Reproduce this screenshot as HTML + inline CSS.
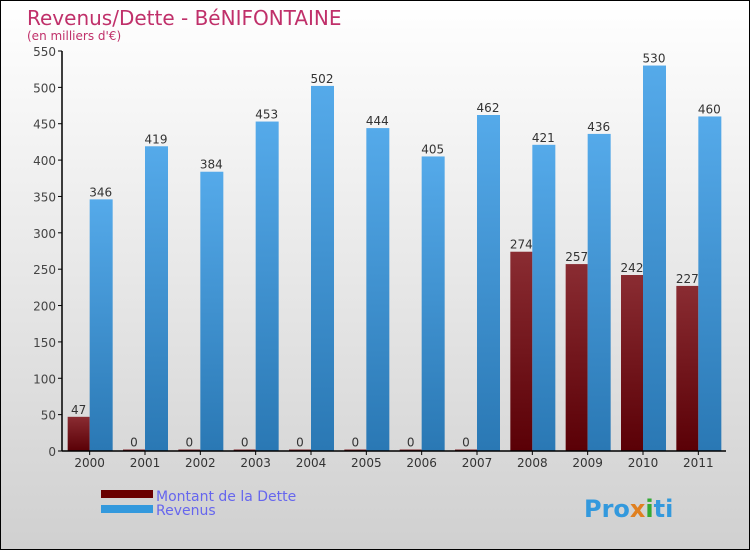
<!DOCTYPE html>
<html><head><meta charset="utf-8"><style>
body{margin:0}
#c{width:750px;height:550px;position:relative;overflow:hidden;background:linear-gradient(#ffffff,#d0d0d0);box-sizing:border-box;border:1px solid #000;font-family:"DejaVu Sans","Liberation Sans",sans-serif}
</style></head><body>
<div id="c">
<svg id="s" width="750" height="550" style="position:absolute;left:0;top:0">
<defs>
<linearGradient id="gd" x1="0" y1="0" x2="0" y2="1"><stop offset="0" stop-color="#8a2c32"/><stop offset="1" stop-color="#5a0006"/></linearGradient>
<linearGradient id="gr" x1="0" y1="0" x2="0" y2="1"><stop offset="0" stop-color="#55aaea"/><stop offset="1" stop-color="#2a78b4"/></linearGradient>
</defs>
<text x="26" y="24" font-size="20" fill="#c0306a">Revenus/Dette - BéNIFONTAINE</text>
<text x="26" y="39" font-size="12" fill="#c0306a">(en milliers d'€)</text>
<g id="g"></g>
<rect x="100" y="489" width="52" height="8" fill="#6a0000"/>
<text x="155" y="500" font-size="14" fill="#6666ee">Montant de la Dette</text>
<rect x="100" y="504" width="52" height="8" fill="#3399dd"/>
<text x="155" y="514" font-size="14" fill="#6666ee">Revenus</text>
<text x="583" y="516" font-size="24" font-weight="bold" fill="#3399dd">Pro<tspan fill="#e08020">x</tspan><tspan fill="#33aa33">i</tspan>ti</text>
</svg>
</div>
<script>
const years=["2000","2001","2002","2003","2004","2005","2006","2007","2008","2009","2010","2011"];
const dette=[47,0,0,0,0,0,0,0,274,257,242,227];
const revenus=[346,419,384,453,502,444,405,462,421,436,530,460];
const ticks=[0,50,100,150,200,250,300,350,400,450,500,550];
const NS="http://www.w3.org/2000/svg";
const g=document.getElementById('g');
const x0=61,x1=725,yb=450,yt=50,max=550;
const step=(x1-x0)/years.length;
const y=v=>yb-(v/max)*(yb-yt);
const cx=i=>x0+step*i+step/2;
function mk(t,a){const e=document.createElementNS(NS,t);for(const k in a)e.setAttribute(k,a[k]);g.appendChild(e);return e;}
ticks.forEach(t=>{
 const l=mk('line',{x1:x0-4,x2:x0,y1:y(t),y2:y(t),stroke:'#000'});
 
 
 const tx=mk('text',{x:x0-6,y:y(t)+5,'text-anchor':'end','font-size':12,fill:'#444'});
 tx.textContent=t;
 
 
});
years.forEach((yr,i)=>{
 const c=cx(i),w=22;
 const hd=Math.max(yb-y(dette[i]),1.5);
 const b1=mk('rect',{x:c-w,y:yb-hd,width:w,height:hd,fill:'url(#gd)'});
 
 
 const b2=mk('rect',{x:c,y:y(revenus[i]),width:w+1,height:yb-y(revenus[i]),fill:'url(#gr)'});
 
 
 const t1=mk('text',{x:c-w/2,y:yb-hd-3,'text-anchor':'middle','font-size':12,fill:'#333'});
 t1.textContent=dette[i];
 
 
 const t2=mk('text',{x:c+w/2,y:y(revenus[i])-3,'text-anchor':'middle','font-size':12,fill:'#333'});
 t2.textContent=revenus[i];
 
 
 const tk=mk('line',{x1:c,x2:c,y1:yb,y2:yb+4,stroke:'#000'});
 
 
 const xl=mk('text',{x:c,y:yb+16,'text-anchor':'middle','font-size':12,fill:'#333'});
 xl.textContent=yr;
 
 
});
const ya=mk('line',{x1:x0,x2:x0,y1:yt,y2:yb,stroke:'#000','stroke-width':1.5});


const xa=mk('line',{x1:x0,x2:x1,y1:yb,y2:yb,stroke:'#000','stroke-width':1.5});


</script>
</body></html>
